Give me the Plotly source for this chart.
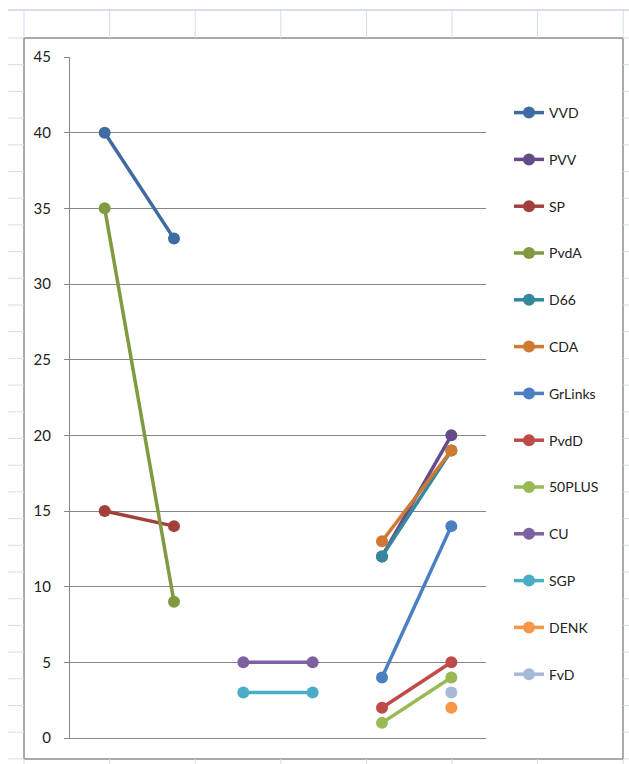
import plotly.graph_objects as go

W, H = 629, 764

# ---- data ----
categories = [1, 2, 3, 4, 5, 6]
parties = ["VVD", "PVV", "SP", "PvdA", "D66", "CDA", "GrLinks", "PvdD",
           "50PLUS", "CU", "SGP", "DENK", "FvD"]
VVD = [40, 33, None, None, None, None]
PVV = [None, None, None, None, 12, 20]
SP = [15, 14, None, None, None, None]
PvdA = [35, 9, None, None, None, None]
D66 = [None, None, None, None, 12, 19]
CDA = [None, None, None, None, 13, 19]
GrLinks = [None, None, None, None, 4, 14]
PvdD = [None, None, None, None, 2, 5]
PLUS50 = [None, None, None, None, 1, 4]
CU = [None, None, 5, 5, None, None]
SGP = [None, None, 3, 3, None, None]
DENK = [None, None, None, None, None, 2]
FvD = [None, None, None, None, None, 3]
series = [VVD, PVV, SP, PvdA, D66, CDA, GrLinks, PvdD, PLUS50, CU, SGP, DENK, FvD]
colors = ["#3E6BA2", "#664B8A", "#A3403C", "#7F9A3F", "#35879E", "#CF7A30",
          "#4A7FC1", "#BE4B48", "#98B954", "#7D60A0", "#4BACC6", "#F79646", "#A6B9D9"]
y_ticks = [0, 5, 10, 15, 20, 25, 30, 35, 40, 45]

FONT = "Lato"

fig = go.Figure()
for i, (name, vals, col) in enumerate(zip(parties, series, colors)):
    fig.add_trace(go.Scatter(
        x=categories, y=vals, name=name, mode="lines+markers",
        line=dict(color=col, width=3.5),
        marker=dict(color=col, size=12),
        connectgaps=False, legendgroup=f"g{i}",
    ))

# ---- spreadsheet background decorations (paper coords, px) ----
shapes = []
def px_x(v):
    return v / W
def px_y(v):
    return 1 - v / H
grid_col = "#D5DDE9"
# top header line
shapes.append(dict(type="line", xref="paper", yref="paper", x0=px_x(8), x1=1,
                   y0=px_y(10), y1=px_y(10), line=dict(color="#C7D3E4", width=1.5)))
# column lines
for k in range(8):
    cx = 24 + 85.6 * k
    shapes.append(dict(type="line", xref="paper", yref="paper", x0=px_x(cx), x1=px_x(cx),
                       y0=px_y(10), y1=px_y(38), line=dict(color=grid_col, width=1)))
    shapes.append(dict(type="line", xref="paper", yref="paper", x0=px_x(cx), x1=px_x(cx),
                       y0=px_y(759), y1=0, line=dict(color=grid_col, width=1)))
# row lines left and right
for k in range(29):
    ry = 38 + 26.7 * k
    if ry > H:
        break
    shapes.append(dict(type="line", xref="paper", yref="paper", x0=px_x(8), x1=px_x(24),
                       y0=px_y(ry), y1=px_y(ry), line=dict(color=grid_col, width=1)))
    shapes.append(dict(type="line", xref="paper", yref="paper", x0=px_x(623), x1=1,
                       y0=px_y(ry), y1=px_y(ry), line=dict(color=grid_col, width=1)))
# chart frame
shapes.append(dict(type="rect", xref="paper", yref="paper", x0=px_x(24), x1=px_x(623),
                   y0=px_y(759), y1=px_y(38), line=dict(color="#8E8E8E", width=1.5),
                   fillcolor="white", layer="below"))

fig.update_layout(
    width=W, height=H,
    margin=dict(l=0, r=0, t=0, b=0, pad=0, autoexpand=False),
    paper_bgcolor="white", plot_bgcolor="rgba(0,0,0,0)",
    showlegend=True,
    font=dict(family=FONT, size=14, color="#262626"),
    shapes=shapes,
    legend=dict(x=px_x(509), y=px_y(97), xanchor="left", yanchor="top",
                bgcolor="rgba(0,0,0,0)", font=dict(family=FONT, size=14, color="#222222"),
                tracegroupgap=25.6, itemwidth=30),
    xaxis=dict(domain=[px_x(70), px_x(486)], range=[0.5, 6.5], showticklabels=False,
               showgrid=False, zeroline=False, showline=True, linecolor="#868686",
               linewidth=1, ticks="", automargin=False),
    yaxis=dict(domain=[px_y(738), px_y(57)], range=[0, 45], tickvals=y_ticks,
               showgrid=True, gridcolor="#868686", gridwidth=1, zeroline=False,
               showline=True, linecolor="#868686", linewidth=1, automargin=False,
               ticks="outside", ticklen=5, tickcolor="#868686",
               ticklabelstandoff=10, tickfont=dict(family=FONT, size=15, color="#222222")),
)

fig.write_html("out.html", config={"displayModeBar": False},
               post_script="document.body.style.margin='0';document.body.style.overflow='hidden';")
